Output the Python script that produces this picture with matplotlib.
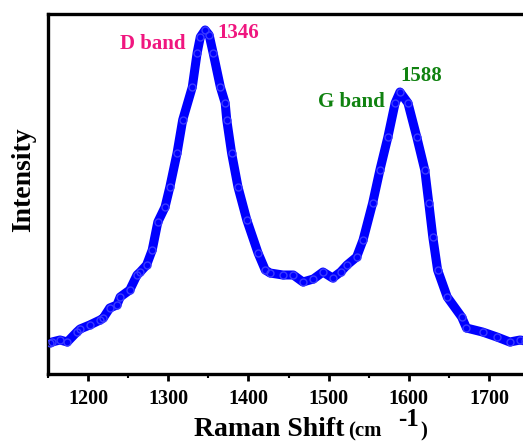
import numpy as np
import matplotlib
matplotlib.use("Agg")
import matplotlib.pyplot as plt

# =========================
# Data
# =========================
shift = [1152, 1155, 1165, 1174, 1186, 1190, 1202, 1215, 1219, 1227,
         1236, 1240, 1252, 1261, 1265, 1273, 1280, 1287, 1296, 1302,
         1311, 1318, 1330, 1336, 1340, 1346, 1351, 1356, 1365, 1371,
         1373, 1379, 1387, 1398, 1412, 1421, 1427, 1443, 1456, 1468,
         1481, 1493, 1505, 1515, 1523, 1535, 1543, 1555, 1564, 1574,
         1583, 1589, 1599, 1610, 1620, 1625, 1630, 1636, 1648, 1666,
         1672, 1692, 1710, 1726, 1739, 1745]
intensity = [31, 32, 34, 32, 42, 45, 49, 54, 56, 66,
             69, 77, 84, 99, 102, 109, 124, 152, 167, 187,
             221, 254, 287, 321, 337, 344, 339, 321, 287, 271,
             254, 221, 187, 154, 121, 104, 101, 99, 99, 92,
             95, 102, 96, 102, 109, 117, 134, 171, 204, 237,
             271, 282, 271, 237, 204, 171, 137, 104, 77, 57,
             46, 42, 37, 32, 34, 33]

peak_labels = ["D band", "G band"]
peak_pos = ["1346", "1588"]
xticks = [1200, 1300, 1400, 1500, 1600, 1700]

blue = "#0000ff"
pink = "#f0167f"
green = "#108210"

plt.rcParams["font.family"] = ["Liberation Serif", "DejaVu Serif"]
plt.rcParams["font.weight"] = "bold"

fig = plt.figure(figsize=(5.23, 4.42), dpi=100)
ax = fig.add_axes([48 / 523, 68 / 442, 481 / 523, 360 / 442])

# thick band + open circles on top (the original is a dense open-circle trace)
ax.plot(shift, intensity, color=blue, lw=6.5, solid_capstyle="round",
        solid_joinstyle="round", zorder=2)
ax.plot(shift, intensity, ls="none", marker="o", ms=5, mfc="none",
        mec="#3a3aff", mew=1.0, zorder=3)

ax.set_xlim(1150, 1750)
ax.set_ylim(0, 360)
ax.set_xticks(xticks)
ax.set_xticks(np.arange(1150, 1751, 50), minor=True)
ax.set_yticks([])
ax.tick_params(axis="x", which="major", direction="out", length=5, width=2,
               labelsize=14.5, pad=6)
ax.tick_params(axis="x", which="minor", direction="out", length=3, width=1.5)
for lab in ax.get_xticklabels():
    lab.set_fontweight("bold")
for sp in ax.spines.values():
    sp.set_linewidth(2.4)

# band annotations
ax.text(1321, 325, peak_labels[0], color=pink, fontsize=15, fontweight="bold",
        ha="right", va="baseline")
ax.text(1361, 336, peak_pos[0], color=pink, fontsize=15, fontweight="bold",
        ha="left", va="baseline")
ax.text(1570, 267, peak_labels[1], color=green, fontsize=15, fontweight="bold",
        ha="right", va="baseline")
ax.text(1589, 293, peak_pos[1], color=green, fontsize=15, fontweight="bold",
        ha="left", va="baseline")

# axis labels
fig.text(24 / 523, 1 - 180 / 442, "Intensity", rotation=90, fontsize=20,
         fontweight="bold", ha="center", va="center")
fig.text(194 / 523, 1 - 436 / 442, "Raman Shift", fontsize=20,
         fontweight="bold", ha="left", va="baseline")
fig.text(348 / 523, 1 - 436 / 442, "(cm", fontsize=15,
         fontweight="bold", ha="left", va="baseline")
fig.text(398 / 523, 1 - 426 / 442, "-1", fontsize=18,
         fontweight="bold", ha="left", va="baseline")
fig.text(420 / 523, 1 - 436 / 442, ")", fontsize=15,
         fontweight="bold", ha="left", va="baseline")

fig.savefig("out.png", dpi=100)
